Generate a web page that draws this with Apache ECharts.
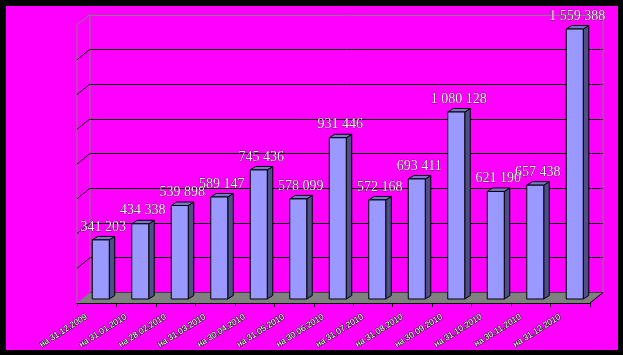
<!DOCTYPE html>
<html><head><meta charset="utf-8">
<script src="https://cdn.jsdelivr.net/npm/echarts@6/dist/echarts.min.js"></script>
<style>html,body{margin:0;padding:0;background:#000;}#c{width:623px;height:355px;}</style>
</head><body><div id="c"></div>
<script>
const categories = ['на 31.12.2009','на 31.01.2010','на 28.02.2010','на 31.03.2010','на 30.04.2010','на 31.05.2010','на 30.06.2010','на 31.07.2010','на 31.08.2010','на 30.09.2010','на 31.10.2010','на 30.11.2010','на 31.12.2010'];
const values = [341203, 434338, 539898, 589147, 745436, 578099, 931446, 572168, 693411, 1080128, 621190, 657438, 1559388];
const gridValues = [0, 200000, 400000, 600000, 800000, 1000000, 1200000, 1400000, 1600000];
const yMin = 0, yMax = 1600000, yInterval = 200000;

const WALL_D = [13, -10.5];
const BAR_D = [5.5, -3.5];
const BAR_W = 17;

function fmt(v){ return String(v).replace(/\B(?=(\d{3})+(?!\d))/g, ' '); }

const chart = echarts.init(document.getElementById('c'), null, {renderer:'canvas'});

const yAx = (gi, extra) => Object.assign({type:'value', gridIndex:gi, min:yMin, max:yMax, interval:yInterval,
  axisLine:{show:false}, axisTick:{show:false}, axisLabel:{show:false}, splitLine:{show:false}}, extra||{});
const xAx = (gi, extra) => Object.assign({type:'category', gridIndex:gi, data:categories, boundaryGap:true,
  axisLine:{show:false}, axisTick:{show:false}, axisLabel:{show:false}, splitLine:{show:false}}, extra||{});

const splitColors = gridValues.map((v,i) => i === gridValues.length-1 ? '#808080' : '#000');

const option = {
  backgroundColor: '#000',
  animation: false,
  graphic: [{type:'rect', shape:{x:6, y:6, width:612, height:344}, style:{fill:'#FF00FF'}, z:-10, silent:true}],
  grid: [
    {left:90, right:20, top:15, bottom:63},
    {left:77, right:33, top:25, bottom:52},
    {left:81, right:28.5, top:22, bottom:56}
  ],
  xAxis: [
    xAx(0),
    xAx(1, {axisLine:{show:true, lineStyle:{color:'#000', width:1}},
      axisTick:{show:true, length:4, lineStyle:{color:'#000'}},
      axisLabel:{show:true, interval:0, rotate:32, margin:7, padding:[0,12,0,0],
        fontFamily:'Liberation Sans Narrow, Liberation Sans', fontSize:8.5, color:'#fff', textBorderColor:'#222', textBorderWidth:1.2}}),
    xAx(2)
  ],
  yAxis: [
    yAx(0, {splitLine:{show:true, lineStyle:{color:splitColors, width:1}}}),
    yAx(1),
    yAx(2)
  ],
  series: [
    {
      type:'custom', xAxisIndex:1, yAxisIndex:1, z:1, silent:true,
      data:[[0, 0]],
      renderItem(params, api){
        const cs = params.coordSys;
        const x = cs.x, w = cs.width;
        const yb = api.coord([0, yMin])[1];
        const yt = api.coord([0, yMax])[1];
        const ch = [];
        const gray = '#808080';
        ch.push({type:'polygon', shape:{points:[[x,yb],[x+w,yb],[x+w+WALL_D[0],yb+WALL_D[1]],[x+WALL_D[0],yb+WALL_D[1]]]},
          style:{fill:'#808080', stroke:null}});
        ch.push({type:'line', shape:{x1:x+w, y1:yb, x2:x+w+WALL_D[0], y2:yb+WALL_D[1]}, style:{stroke:'#000', lineWidth:1}});
        ch.push({type:'line', shape:{x1:x, y1:yt, x2:x, y2:yb}, style:{stroke:gray, lineWidth:1}});
        ch.push({type:'line', shape:{x1:x+WALL_D[0], y1:yt+WALL_D[1], x2:x+WALL_D[0], y2:yb+WALL_D[1]}, style:{stroke:gray, lineWidth:1}});
        ch.push({type:'line', shape:{x1:x+w+WALL_D[0], y1:yt+WALL_D[1], x2:x+w+WALL_D[0], y2:yb+WALL_D[1]}, style:{stroke:gray, lineWidth:1}});
        gridValues.forEach((v,i) => {
          if (i === 0) return;
          const y = api.coord([0, v])[1];
          ch.push({type:'line', shape:{x1:x, y1:y, x2:x+WALL_D[0], y2:y+WALL_D[1]},
            style:{stroke: i === gridValues.length-1 ? gray : '#000', lineWidth:1}});
        });
        return {type:'group', children:ch};
      }
    },
    {
      type:'custom', xAxisIndex:2, yAxisIndex:2, z:3, silent:true,
      data: values.map((v,i) => [i, v]),
      renderItem(params, api){
        const i = api.value(0), v = api.value(1);
        const p0 = api.coord([i, 0]);
        const p1 = api.coord([i, v]);
        const x0 = p0[0] - BAR_W/2, x1 = p0[0] + BAR_W/2;
        const yb = p0[1], yt = p1[1];
        const dx = BAR_D[0], dy = BAR_D[1];
        const st = {stroke:'#000', lineWidth:1};
        return {type:'group', children:[
          {type:'polygon', shape:{points:[[x1,yb],[x1+dx,yb+dy],[x1+dx,yt+dy],[x1,yt]]}, style:Object.assign({fill:'#4F4F88'}, st)},
          {type:'polygon', shape:{points:[[x0,yt],[x1,yt],[x1+dx,yt+dy],[x0+dx,yt+dy]]}, style:Object.assign({fill:'#7777CC'}, st)},
          {type:'rect', shape:{x:x0, y:yt, width:BAR_W, height:yb-yt}, style:Object.assign({fill:'#9999FF'}, st)},
          {type:'text', style:{text:fmt(v), x:p0[0]+2.5, y:yt-13, align:'center', verticalAlign:'middle',
            fontFamily:'Liberation Serif', fontSize:14, fill:'#f4f4f4', stroke:'#000', lineWidth:0.5}}
        ]};
      }
    }
  ]
};
chart.setOption(option);
</script>
</body></html>
